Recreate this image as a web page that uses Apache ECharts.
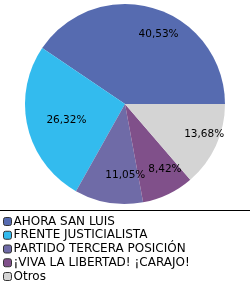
<!DOCTYPE html>
<html>
<head>
<meta charset="utf-8">
<script src="https://cdn.jsdelivr.net/npm/echarts@6/dist/echarts.min.js"></script>
<style>
  html, body { margin: 0; padding: 0; background: #fff; }
  #chart-container { width: 250px; height: 285px; }
</style>
</head>
<body>
<div id="chart-container"></div>
<script>
  // party names and their share of the vote (%)
  var parties = ['AHORA SAN LUIS', 'FRENTE JUSTICIALISTA', 'PARTIDO TERCERA POSICIÓN', '¡VIVA LA LIBERTAD! ¡CARAJO!', 'Otros'];
  var shares = [40.53, 26.32, 11.05, 8.42, 13.68];
  var colors = ['#566BB0', '#33BBEE', '#6F6BA7', '#80508A', '#D4D4D4'];

  // small nudges so the labels sit where the original chart put them
  var labelNudge = [[18, -19], [-7, 4], [9, 19], [17, 17], [31, 8]];

  var dom = document.getElementById('chart-container');
  var myChart = echarts.init(dom, null, { renderer: 'canvas' });

  var fmt = function (v) {
    return v.toFixed(2).replace('.', ',') + '%';
  };

  var option = {
    animation: false,
    color: colors,
    legend: {
      orient: 'vertical',
      left: 3,
      top: 215,
      padding: 0,
      itemWidth: 8,
      itemHeight: 8,
      itemGap: 0.75,
      icon: 'roundRect',
      itemStyle: { borderColor: '#333', borderWidth: 1 },
      textStyle: {
        fontFamily: 'DejaVu Sans',
        fontSize: 12,
        lineHeight: 13,
        color: '#000',
        padding: [0, 0, 0, -3]
      },
      data: parties
    },
    graphic: [{
      type: 'line',
      shape: { x1: 0, y1: 210.5, x2: 250, y2: 210.5 },
      style: { stroke: '#000', lineWidth: 1 }
    }],
    series: [{
      type: 'pie',
      center: [125, 104],
      radius: [0, 100],
      startAngle: 0,
      clockwise: false,
      avoidLabelOverlap: false,
      itemStyle: { borderWidth: 0 },
      emphasis: { disabled: true },
      label: {
        position: 'inside',
        color: '#000',
        fontFamily: 'DejaVu Sans',
        fontSize: 10.5,
        formatter: function (p) { return fmt(p.value); }
      },
      labelLine: { show: false },
      data: parties.map(function (name, i) {
        return {
          name: name,
          value: shares[i],
          label: { offset: labelNudge[i] }
        };
      })
    }]
  };

  myChart.setOption(option);
</script>
</body>
</html>
